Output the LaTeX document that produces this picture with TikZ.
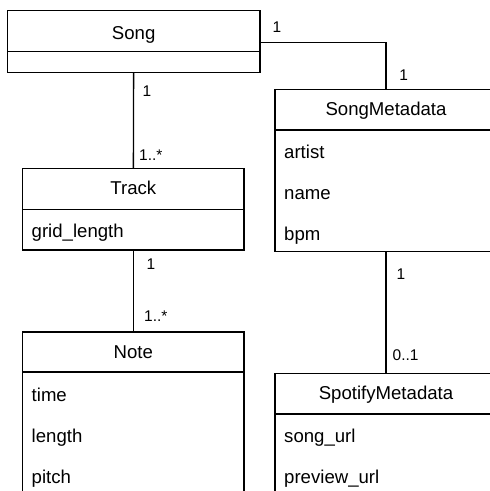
\documentclass[tikz,border=0pt]{standalone}
\usepackage{fontspec}
\setmainfont{Liberation Sans}
\begin{document}
\begin{tikzpicture}[x=1pt,y=-1pt,
  box/.style={draw, line width=1.3pt, anchor=north west, inner sep=0pt, outer sep=0pt, rectangle},
  title/.style={anchor=base, inner sep=0pt, font=\fontsize{18.6}{22}\selectfont},
  attr/.style={anchor=base west, inner sep=0pt, font=\fontsize{18.6}{22}\selectfont},
  mult/.style={anchor=base west, inner sep=0pt, font=\fontsize{15.5}{18}\selectfont},
  conn/.style={line width=1.3pt}]
\useasboundingbox (0,0) rectangle (490,491);
\clip (0,0) rectangle (490,491);
% Song
\node[box, minimum width=252.7pt, minimum height=41pt] (songH) at (7.3,10.7) {};
\node[box, minimum width=252.7pt, minimum height=21pt] (songB) at (7.3,51.7) {};
\node[title] (songT) at (133.65,39.3) {Song};
% Track
\node[box, minimum width=221.3pt, minimum height=41pt] (trackH) at (22.7,168.3) {};
\node[box, minimum width=221.3pt, minimum height=40.7pt] (trackB) at (22.7,209.3) {};
\node[title] (trackT) at (133.35,194.3) {Track};
\node[attr] (trackA1) at (31.5,237.3) {grid\_length};
% Note
\node[box, minimum width=221.3pt, minimum height=40pt] (noteH) at (22.7,332) {};
\node[box, minimum width=221.3pt, minimum height=140pt] (noteB) at (22.7,372) {};
\node[title] (noteT) at (133.35,358.3) {Note};
\node[attr] (noteA1) at (31.5,401.7) {time};
\node[attr] (noteA2) at (31.5,442) {length};
\node[attr] (noteA3) at (31.5,483) {pitch};
% SongMetadata
\node[box, minimum width=222pt, minimum height=40.7pt] (smH) at (275,89.3) {};
\node[box, minimum width=222pt, minimum height=121.7pt] (smB) at (275,130) {};
\node[title] (smT) at (386,115) {SongMetadata};
\node[attr] (smA1) at (284,158) {artist};
\node[attr] (smA2) at (284,199.3) {name};
\node[attr] (smA3) at (284,240) {bpm};
% SpotifyMetadata
\node[box, minimum width=222pt, minimum height=40.7pt] (spH) at (275,373.3) {};
\node[box, minimum width=222pt, minimum height=120pt] (spB) at (275,414) {};
\node[title] (spT) at (386,399) {SpotifyMetadata};
\node[attr] (spA1) at (284,442.7) {song\_url};
\node[attr] (spA2) at (284,483.3) {preview\_url};
% connectors
\draw[conn] (songH.north east) ++(0,31.6) -| (smH.north);
\draw[conn] (songB.south) -- (trackH.north);
\draw[conn] (trackB.south) -- (noteH.north);
\draw[conn] (smB.south) -- (spH.north);
% multiplicities
\node[mult] (m1) at (272.5,32) {1};
\node[mult] (m2) at (399.2,80) {1};
\node[mult] (m3) at (142.5,96.7) {1};
\node[mult] (m4) at (139,160.7) {1..*};
\node[mult] (m5) at (146.5,269) {1};
\node[mult] (m6) at (144,321.7) {1..*};
\node[mult] (m7) at (396.5,279) {1};
\node[mult] (m8) at (392.5,360.7) {0..1};
\end{tikzpicture}
\end{document}
